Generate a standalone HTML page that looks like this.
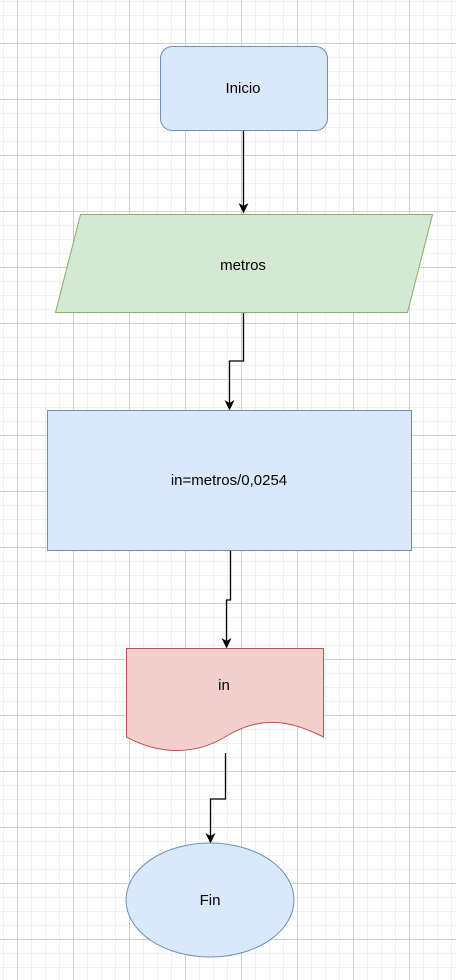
<!DOCTYPE html>
<html><head><style>
html,body{margin:0;padding:0;background:#fff;}
svg{display:block;}
text{font-family:"Liberation Sans",Arial,sans-serif;font-size:15px;fill:#000;}
</style></head><body>
<svg width="456" height="980" xmlns="http://www.w3.org/2000/svg">
<defs>
<pattern id="minor" x="3" y="1" width="14" height="14" patternUnits="userSpaceOnUse">
<path d="M0 0.5H14M0.5 0V14" stroke="#f0f0f0" stroke-width="1" fill="none"/>
</pattern>
<pattern id="major" x="17" y="43" width="56" height="56" patternUnits="userSpaceOnUse">
<path d="M0 0.5H56M0.5 0V56" stroke="#d0d0d0" stroke-width="1" fill="none"/>
</pattern>
</defs>
<rect width="456" height="980" fill="url(#minor)"/>
<rect width="456" height="980" fill="url(#major)"/>

<g stroke="#000" stroke-width="1.3" fill="none">
<path d="M243.5 130 V206"/>
<path d="M243.5 312 V361 H229.5 V403"/>
<path d="M230.5 550 V600 H226.5 V641"/>
<path d="M225.5 753 V799 H210.5 V836"/>
</g>
<g fill="#000">
<path d="M238.5 203 L243.5 213.5 L248.5 203 L243.5 206 Z"/>
<path d="M224.5 400 L229.5 410.5 L234.5 400 L229.5 403 Z"/>
<path d="M221.5 638 L226.5 648.5 L231.5 638 L226.5 641 Z"/>
<path d="M205.5 833 L210.5 843.5 L215.5 833 L210.5 836 Z"/>
</g>

<rect x="160.5" y="46.5" width="167" height="84" rx="12" fill="#dae8fc" stroke="#6c8ebf"/>
<text x="243" y="93" text-anchor="middle">Inicio</text>

<path d="M80.5 214.5 H432.5 L407.5 312.5 H55.5 Z" fill="#d5e8d4" stroke="#82b366"/>
<text x="243" y="270" text-anchor="middle">metros</text>

<rect x="47.5" y="410.5" width="364" height="140" fill="#dae8fc" stroke="#6c8ebf"/>
<text x="229" y="485" text-anchor="middle">in=metros/0,0254</text>

<path d="M126.5 648.5 H323.5 V737 C290 720 260 715 225 737 C195 755 160 755 126.5 737 Z" fill="#f2d0cd" stroke="#b85450"/>
<text x="224" y="690" text-anchor="middle">in</text>

<ellipse cx="210" cy="900" rx="84" ry="57" fill="#dae8fc" stroke="#6c8ebf"/>
<text x="210" y="905" text-anchor="middle">Fin</text>
</svg>
</body></html>
